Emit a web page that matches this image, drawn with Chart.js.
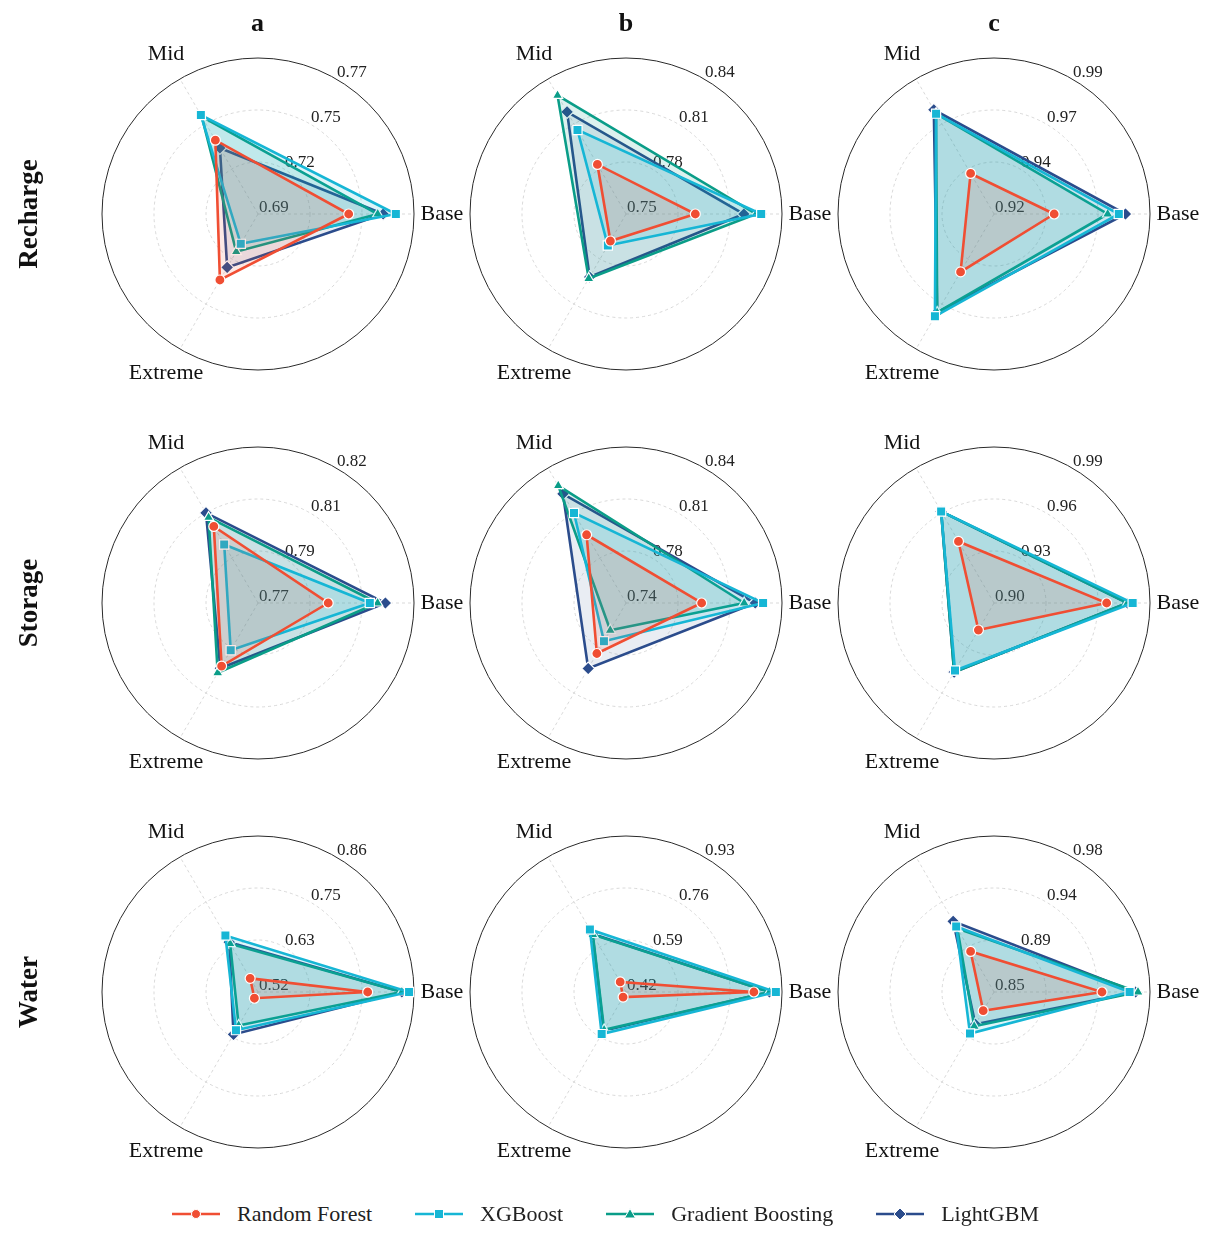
<!DOCTYPE html>
<html lang="en">

<head>
    <meta charset="UTF-8">
    <title>Radar panels</title>
    <script src="https://cdn.jsdelivr.net/npm/chart.js"></script>
    <style>
        body { margin: 0; background: #fff; font-family: "Liberation Serif", "Times New Roman", serif; }
        #page { position: relative; width: 1211px; height: 1236px; overflow: hidden; }
        canvas.panel { position: absolute; }
        .col-title { position: absolute; width: 60px; text-align: center; font-weight: bold; font-size: 26px; line-height: 30px; color: #111; }
        .row-title { position: absolute; width: 200px; text-align: center; font-weight: bold; font-size: 27px; line-height: 32px; color: #111; transform: rotate(-90deg); }
        #legend { position: absolute; left: 0; top: 1199px; width: 1211px; height: 30px; display: flex; justify-content: center; align-items: center; gap: 43px; }
        .item { display: flex; align-items: center; font-size: 22px; color: #222; }
        .item svg { margin-right: 17px; }
    </style>
</head>

<body>
    <div id="page"></div>
    <script>
        // axes of every radar, in reading order of the values below
        const axisLabels = ['Base', 'Mid', 'Extreme'];
        const rowTitles = ['Recharge', 'Storage', 'Water'];
        const colTitles = ['a', 'b', 'c'];
        const models = ['Random Forest', 'XGBoost', 'Gradient Boosting', 'LightGBM'];

        // one triple [Base, Mid, Extreme] per panel: a1, b1, c1, a2, b2, c2, a3, b3, c3
        const randomForest = [
            [0.738, 0.735, 0.730], [0.790, 0.783, 0.768], [0.947, 0.941, 0.950],
            [0.792, 0.799, 0.793], [0.792, 0.794, 0.781], [0.965, 0.941, 0.918],
            [0.759, 0.550, 0.531], [0.838, 0.458, 0.439], [0.940, 0.889, 0.868]
        ];
        const xgboost = [
            [0.764, 0.751, 0.707], [0.828, 0.806, 0.771], [0.976, 0.972, 0.973],
            [0.808, 0.791, 0.786], [0.831, 0.810, 0.772], [0.980, 0.961, 0.945],
            [0.851, 0.660, 0.613], [0.910, 0.656, 0.579], [0.963, 0.913, 0.890]
        ];
        const gradientBoosting = [
            [0.754, 0.750, 0.712], [0.825, 0.829, 0.793], [0.971, 0.972, 0.971],
            [0.811, 0.803, 0.796], [0.819, 0.830, 0.764], [0.977, 0.961, 0.946],
            [0.835, 0.639, 0.601], [0.889, 0.637, 0.563], [0.970, 0.911, 0.883]
        ];
        const lightgbm = [
            [0.757, 0.730, 0.722], [0.818, 0.818, 0.792], [0.979, 0.974, 0.971],
            [0.814, 0.805, 0.794], [0.826, 0.824, 0.792], [0.977, 0.961, 0.946],
            [0.835, 0.643, 0.624], [0.889, 0.639, 0.566], [0.968, 0.918, 0.881]
        ];

        // radial range (centre, outer ring) and the printed ring labels
        const scaleMin = [0.688, 0.75, 0.92, 0.765, 0.744, 0.90, 0.515, 0.42, 0.85];
        const scaleMax = [0.774, 0.84, 0.99, 0.825, 0.843, 0.99, 0.862, 0.93, 0.98];
        const tickLabels = [
            ['0.69', '0.72', '0.75', '0.77'], ['0.75', '0.78', '0.81', '0.84'], ['0.92', '0.94', '0.97', '0.99'],
            ['0.77', '0.79', '0.81', '0.82'], ['0.74', '0.78', '0.81', '0.84'], ['0.90', '0.93', '0.96', '0.99'],
            ['0.52', '0.63', '0.75', '0.86'], ['0.42', '0.59', '0.76', '0.93'], ['0.85', '0.89', '0.94', '0.98']
        ];

        const seriesData = [randomForest, xgboost, gradientBoosting, lightgbm];
        const colors = ['#F04E33', '#16B6D5', '#0A9D88', '#2B4C8C'];
        const fills = ['rgba(240,78,51,0.13)', 'rgba(22,182,213,0.14)', 'rgba(10,157,136,0.14)', 'rgba(43,76,140,0.10)'];
        const markers = ['circle', 'rect', 'triangle', 'rectRot'];
        const markerSize = [5, 6.5, 6, 6.5];

        const FONT = '"Liberation Serif", "Times New Roman", serif';
        const colX = [257.5, 626, 994];
        const rowY = [213.5, 602.5, 991.5];
        const CW = 440, CH = 400, R = 156;
        // chart.js goes clockwise, so Base -> Extreme -> Mid starting at 3 o'clock
        const order = [0, 2, 1];

        const page = document.getElementById('page');

        // ring labels go along the 60 degree ray, point labels sit outside the ring
        const panelText = {
            id: 'panelText',
            beforeDatasetsDraw(chart, args, opts) {
                const s = chart.scales.r;
                const ctx = chart.ctx;
                ctx.save();
                ctx.font = '17px ' + FONT;
                ctx.fillStyle = '#222';
                ctx.textAlign = 'left';
                ctx.textBaseline = 'alphabetic';
                s.ticks.forEach((t, i) => {
                    const d = s.getDistanceFromCenterForValue(t.value);
                    const x = s.xCenter + d * Math.cos(-Math.PI / 3);
                    const y = s.yCenter + d * Math.sin(-Math.PI / 3);
                    ctx.fillText(opts.text[i], x + 1, y - 2);
                });
                ctx.restore();
            },
            afterDraw(chart) {
                const s = chart.scales.r;
                const ctx = chart.ctx;
                ctx.save();
                ctx.font = '22px ' + FONT;
                ctx.fillStyle = '#111';
                ctx.textAlign = 'center';
                ctx.textBaseline = 'middle';
                chart.data.labels.forEach((lab, i) => {
                    const p = s.getPointPosition(i, s.drawingArea + 28);
                    ctx.fillText(lab, p.x, p.y);
                });
                ctx.restore();
            }
        };

        function drawPanel(k) {
            const row = Math.floor(k / 3), col = k % 3;
            const cv = document.createElement('canvas');
            cv.className = 'panel';
            cv.width = CW;
            cv.height = CH;
            cv.style.left = (colX[col] - CW / 2) + 'px';
            cv.style.top = (rowY[row] - CH / 2) + 'px';
            page.appendChild(cv);

            const lo = scaleMin[k], hi = scaleMax[k];
            const datasets = models.map((m, j) => ({
                label: m,
                data: order.map(i => seriesData[j][k][i]),
                borderColor: colors[j],
                backgroundColor: fills[j],
                borderWidth: 2.6,
                fill: true,
                pointStyle: markers[j],
                pointRadius: markerSize[j],
                pointBackgroundColor: colors[j],
                pointBorderColor: '#fff',
                pointBorderWidth: 1.2
            }));

            new Chart(cv, {
                type: 'radar',
                data: { labels: order.map(i => axisLabels[i]), datasets: datasets },
                options: {
                    responsive: false,
                    animation: false,
                    layout: { padding: { left: (CW - 2 * R) / 2, right: (CW - 2 * R) / 2, top: (CH - 2 * R) / 2, bottom: (CH - 2 * R) / 2 } },
                    plugins: {
                        legend: { display: false },
                        tooltip: { enabled: false },
                        panelText: { text: tickLabels[k] }
                    },
                    scales: {
                        r: {
                            min: lo,
                            max: hi,
                            startAngle: 90,
                            ticks: { display: false },
                            pointLabels: { display: false },
                            afterBuildTicks: (scale) => {
                                scale.ticks = [0, 1, 2, 3].map(n => ({ value: lo + n * (hi - lo) / 3 }));
                            },
                            grid: {
                                circular: true,
                                color: (c) => c.index === 3 ? '#2a2a2a' : '#cfcfcf',
                                lineWidth: (c) => c.index === 3 ? 1 : 0.8
                            },
                            border: {
                                dash: (c) => c.index === 3 ? [] : [3, 3]
                            },
                            angleLines: { color: '#cfcfcf', lineWidth: 0.8, borderDash: [3, 3] }
                        }
                    }
                },
                plugins: [panelText]
            });
        }

        for (let k = 0; k < 9; k++) drawPanel(k);

        colTitles.forEach((t, i) => {
            const d = document.createElement('div');
            d.className = 'col-title';
            d.textContent = t;
            d.style.left = (colX[i] - 30) + 'px';
            d.style.top = '8px';
            page.appendChild(d);
        });
        rowTitles.forEach((t, i) => {
            const d = document.createElement('div');
            d.className = 'row-title';
            d.textContent = t;
            d.style.left = (27.5 - 100) + 'px';
            d.style.top = (rowY[i] - 16) + 'px';
            page.appendChild(d);
        });

        // legend: short line with the marker in the middle
        const shapes = {
            circle: (c) => `<circle cx="24" cy="10" r="4.5" fill="${c}" stroke="#fff" stroke-width="1"/>`,
            rect: (c) => `<rect x="19.5" y="5.5" width="9" height="9" fill="${c}" stroke="#fff" stroke-width="1"/>`,
            triangle: (c) => `<polygon points="24,4.5 29.5,14 18.5,14" fill="${c}" stroke="#fff" stroke-width="1"/>`,
            rectRot: (c) => `<polygon points="24,4 30,10 24,16 18,10" fill="${c}" stroke="#fff" stroke-width="1"/>`
        };
        const legend = document.createElement('div');
        legend.id = 'legend';
        models.forEach((m, j) => {
            const it = document.createElement('div');
            it.className = 'item';
            it.innerHTML = `<svg width="48" height="20"><line x1="0" y1="10" x2="48" y2="10" stroke="${colors[j]}" stroke-width="2.6"/>${shapes[markers[j]](colors[j])}</svg><span>${m}</span>`;
            legend.appendChild(it);
        });
        page.appendChild(legend);
    </script>
</body>

</html>
